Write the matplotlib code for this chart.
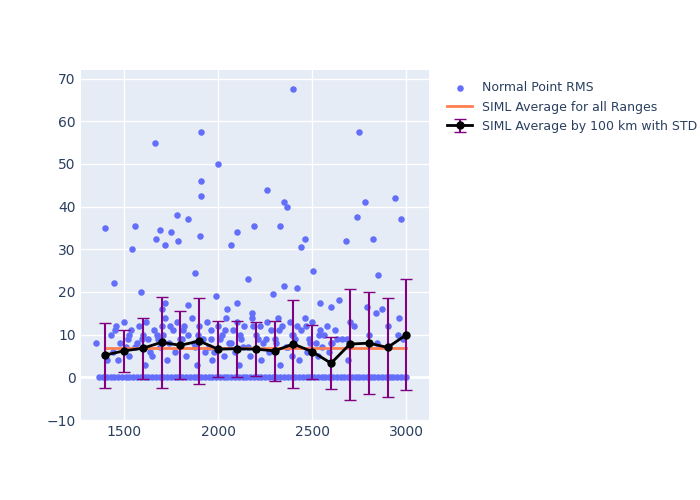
import matplotlib
matplotlib.use("Agg")
import matplotlib.pyplot as plt

BG = "#E5ECF6"
POINT_COLOR = "#636EFA"

# sampled scatter: normal point RMS as (range km, rms) pairs
cloud_points = [
    (1350, 8), (1410, 4), (1400, 35), (1450, 22), (1560, 35.5), (1545, 30), (1590, 20),
    (1665, 55), (1670, 32.5), (1690, 34.5), (1720, 31), (1750, 34), (1780, 38), (1790, 32),
    (1840, 37), (1880, 24.5), (1910, 57.5), (1910, 46), (1910, 42.5), (1905, 33), (2000, 50),
    (2070, 31), (2100, 34), (2160, 23), (2190, 35.5), (2260, 44), (2330, 35.5), (2350, 41),
    (2365, 40), (2400, 67.5), (2440, 30.5), (2460, 32.5), (2505, 25), (2680, 32), (2740, 37.5),
    (2750, 57.5), (2780, 41), (2820, 32.5), (2850, 24), (2940, 42), (2970, 37), (2960, 14),
    (2290, 19.5), (2350, 21.5), (2420, 21), (2180, 15), (1990, 19), (2050, 16), (2100, 17.5),
    (1840, 17), (1720, 17.5), (1700, 16), (2540, 17.5), (2640, 18), (2600, 16.5), (2870, 16),
    (2790, 16.5),
    (1430, 10), (1460, 12), (1480, 8), (1500, 13), (1520, 9), (1540, 11), (1560, 7), (1580, 12),
    (1600, 10), (1620, 13), (1640, 6), (1660, 11), (1680, 9), (1700, 12), (1720, 14), (1740, 8),
    (1760, 11), (1780, 13), (1800, 9), (1820, 12), (1840, 10), (1860, 14), (1880, 7), (1900, 12),
    (1920, 9), (1940, 13), (1960, 11), (1980, 6), (2000, 12), (2020, 10), (2040, 14), (2060, 8),
    (2080, 11), (2100, 13), (2120, 9), (2140, 12), (2160, 7), (2180, 14), (2200, 10), (2220, 12),
    (2240, 8), (2260, 13), (2280, 11), (2300, 9), (2320, 14), (2340, 12), (2360, 7), (2380, 13),
    (2400, 10), (2420, 12), (2440, 11), (2460, 14), (2480, 9), (2500, 13), (2520, 8), (2540, 11),
    (2560, 10), (2580, 12), (2600, 8), (2620, 11), (2660, 9), (2700, 13), (2720, 12), (2800, 10),
    (2840, 15), (2900, 12), (2980, 9),
    (1440, 6), (1470, 4), (1510, 7), (1530, 5), (1570, 8), (1610, 3), (1630, 9), (1650, 5),
    (1690, 7), (1710, 10), (1730, 4), (1770, 6), (1810, 9), (1830, 5), (1870, 8), (1890, 3),
    (1930, 6), (1950, 7), (1970, 4), (2010, 9), (2030, 5), (2070, 8), (2090, 6), (2110, 3),
    (2130, 7), (2170, 5), (2210, 9), (2230, 4), (2270, 6), (2310, 8), (2330, 3), (2370, 7),
    (2390, 5), (2410, 9), (2430, 4), (2470, 6), (2490, 8), (2530, 5), (2550, 7), (2590, 6),
    (2630, 9), (2690, 4),
    (1455, 11), (1525, 10), (1595, 9), (1675, 10), (1745, 12), (1815, 11), (1895, 10), (1965, 9),
    (2035, 11), (2115, 10), (2185, 12), (2255, 9), (2325, 11), (2395, 10), (2465, 12), (2535, 10),
    (2605, 8), (2685, 9), (2845, 8), (2955, 10),
]
zero_x = [1370, 1390, 1410, 1430, 1450, 1470, 1490, 1510, 1530, 1550, 1570, 1590, 1610, 1630,
          1650, 1670, 1690, 1710, 1730, 1750, 1770, 1790, 1810, 1830, 1850, 1870, 1890, 1910,
          1930, 1950, 1970, 1990, 2010, 2030, 2050, 2070, 2090, 2110, 2130, 2150, 2170, 2190,
          2210, 2230, 2250, 2270, 2290, 2310, 2330, 2350, 2370, 2390, 2410, 2430, 2450, 2470,
          2490, 2510, 2530, 2550, 2570, 2590, 2610, 2630, 2650, 2670, 2690, 2710, 2730, 2750,
          2770, 2790, 2810, 2830, 2850, 2870, 2890, 2910, 2930, 2950, 2970, 2990, 3000]

# binned averages
bin_x = [1400, 1500, 1600, 1700, 1800, 1900, 2000, 2100, 2200, 2300, 2400, 2500, 2600, 2700,
         2800, 2900, 3000]
bin_mean = [5.2, 6.2, 6.8, 8.2, 7.5, 8.5, 6.6, 6.7, 6.6, 6.2, 7.8, 6.0, 3.3, 7.8, 8.0, 7.0, 10.0]
bin_std = [7.6, 5.0, 7.2, 10.6, 8.0, 10.1, 6.6, 6.6, 6.4, 7.0, 10.4, 6.3, 6.1, 13.0, 12.0, 11.7, 13.0]
overall_avg = 6.8

px = [p[0] for p in cloud_points] + zero_x
py = [p[1] for p in cloud_points] + [0] * len(zero_x)

fig, ax = plt.subplots(figsize=(7, 5), dpi=100)
fig.subplots_adjust(left=0.115, right=0.613, top=0.86, bottom=0.16)
ax.set_facecolor(BG)

ax.scatter(px, py, s=22, color=POINT_COLOR, linewidths=0, zorder=2, label="Normal Point RMS")
ax.errorbar(bin_x, bin_mean, yerr=bin_std, color="black", marker="o", markersize=5, linewidth=2,
            ecolor="purple", elinewidth=1.5, capsize=4, zorder=4,
            label="SIML Average by 100 km with STD")
ax.plot([bin_x[0], bin_x[-1]], [overall_avg, overall_avg], color="#FF7F50", linewidth=2,
        zorder=3, label="SIML Average for all Ranges")

ax.set_xlim(1270, 3120)
ax.set_ylim(-10, 72)
ax.set_xticks([1500, 2000, 2500, 3000])
ax.set_yticks([-10, 0, 10, 20, 30, 40, 50, 60, 70])
ax.grid(color="white", linewidth=1, zorder=0)
ax.axhline(0, color="white", linewidth=2, zorder=1)
ax.set_axisbelow(True)
for s in ax.spines.values():
    s.set_visible(False)
ax.tick_params(length=0, labelsize=10, colors="#2a3f5f")

ax.legend(loc="upper left", bbox_to_anchor=(1.02, 1.0), frameon=False, fontsize=9,
          labelcolor="#2a3f5f")

fig.savefig("out.png")
